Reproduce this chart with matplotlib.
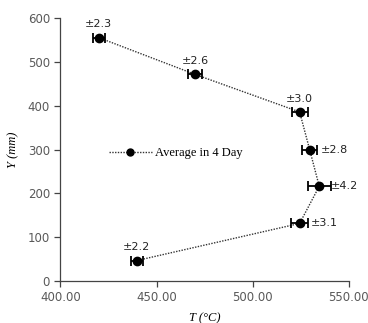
import numpy as np
import matplotlib.pyplot as plt

# average temperature profile over height, 4 day mean
temp = [420.0, 470.0, 524.4, 529.6, 534.6, 524.4, 439.7]
height = [556, 472, 386, 300, 216, 131, 46]
err = [2.3, 2.6, 3.0, 2.8, 4.2, 3.1, 2.2]
err_labels = ['±2.3', '±2.6', '±3.0', '±2.8', '±4.2', '±3.1', '±2.2']
# where each label sits: above or right of the point
label_pos = ['above', 'above', 'above', 'right', 'right', 'right', 'above']

fig = plt.figure(figsize=(3.68, 3.23), dpi=100)
ax = fig.add_axes([0.164, 0.131, 0.784, 0.812])

ax.errorbar(temp, height, xerr=np.array(err) * 1.4, fmt='o', color='black',
            ms=6, capsize=3.5, capthick=1.3, elinewidth=1.3, zorder=3)
ax.plot(temp, height, color='#333333', lw=1.0, dashes=(1, 1))

for x, y, s, p in zip(temp, height, err_labels, label_pos):
    if p == 'above':
        ax.annotate(s, (x, y), xytext=(0, 6), textcoords='offset points',
                    ha='center', va='bottom', fontsize=8, color='#222222')
    else:
        ax.annotate(s, (x, y), xytext=(8, 0), textcoords='offset points',
                    ha='left', va='center', fontsize=8, color='#222222')

# legend handle with a single marker in the middle
leg_line, = ax.plot([], [], color='#333333', lw=1.0, dashes=(1, 1),
                    marker='o', ms=5, mfc='black', mec='black')
ax.legend([leg_line], ['Average in 4 Day'], loc='center left',
          bbox_to_anchor=(0.13, 0.485), frameon=False, handlelength=3.4,
          handletextpad=0.3, prop={'family': 'Liberation Serif', 'size': 9})

ax.set_xlim(400, 550)
ax.set_ylim(0, 600)
ax.set_xticks([400, 450, 500, 550])
ax.set_xticklabels(['400.00', '450.00', '500.00', '550.00'])
ax.set_yticks(range(0, 601, 100))

for s in ['top', 'right']:
    ax.spines[s].set_visible(False)
for s in ['left', 'bottom']:
    ax.spines[s].set_color('#444444')
    ax.spines[s].set_linewidth(0.9)
ax.tick_params(colors='#444444', labelcolor='#595959', labelsize=8.5,
               length=4, width=0.9)

ax.set_xlabel('T (°C)', family='Liberation Serif', style='italic', fontsize=9,
              labelpad=6)
ax.set_ylabel('Y (mm)', family='Liberation Serif', style='italic', fontsize=9,
              labelpad=6)

fig.savefig('out.png', dpi=100)
